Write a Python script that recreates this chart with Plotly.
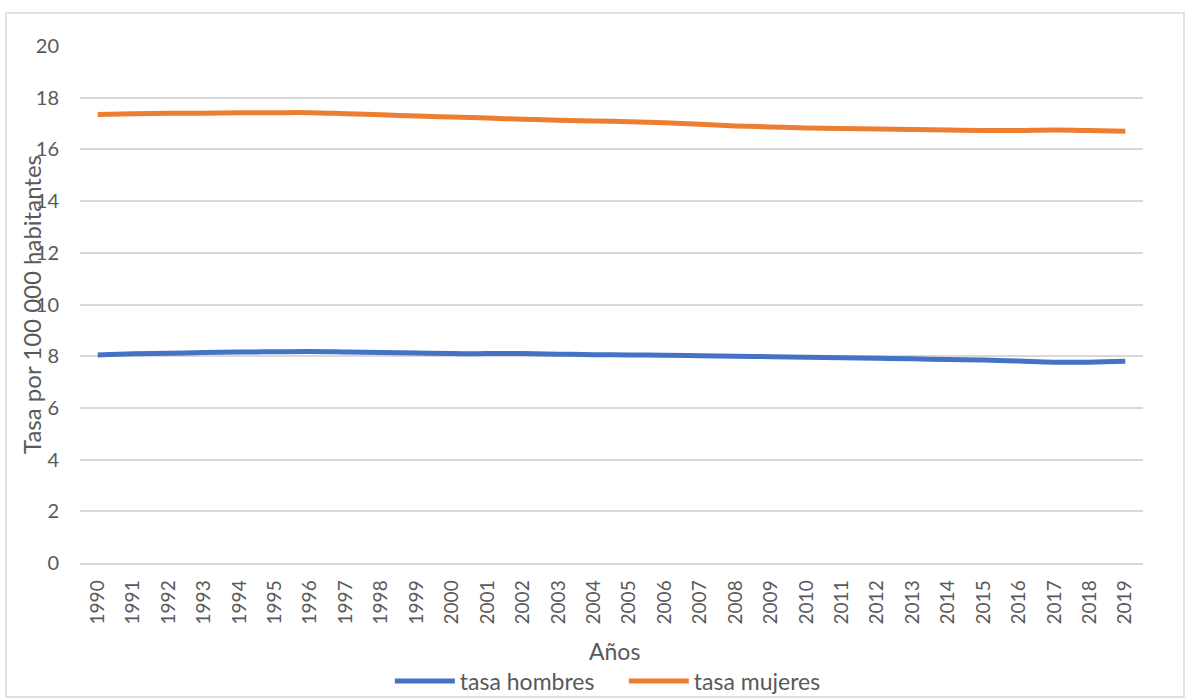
import plotly.graph_objects as go

years = [str(y) for y in range(1990, 2020)]
hombres = [8.05, 8.09, 8.11, 8.14, 8.16, 8.17, 8.18, 8.16, 8.14, 8.12,
           8.10, 8.10, 8.10, 8.08, 8.06, 8.05, 8.04, 8.02, 8.00, 7.98,
           7.96, 7.94, 7.92, 7.90, 7.87, 7.85, 7.81, 7.77, 7.77, 7.80]
mujeres = [17.35, 17.38, 17.40, 17.40, 17.42, 17.42, 17.42, 17.38, 17.34, 17.29,
           17.25, 17.21, 17.17, 17.13, 17.10, 17.07, 17.03, 16.97, 16.91, 16.87,
           16.83, 16.81, 16.79, 16.77, 16.75, 16.73, 16.73, 16.75, 16.73, 16.70]
y_ticks = [0, 2, 4, 6, 8, 10, 12, 14, 16, 18, 20]

FONT = "Lato"
GREY = "#595959"

fig = go.Figure()
fig.add_trace(go.Scatter(x=years, y=hombres, name="tasa hombres", mode="lines",
                         line=dict(color="#4472C4", width=5, shape="spline")))
fig.add_trace(go.Scatter(x=years, y=mujeres, name="tasa mujeres", mode="lines",
                         line=dict(color="#ED7D31", width=5, shape="spline")))

W, H = 1186, 698
L, R, T, B = 80, 43, 46, 135
pw, ph = W - L - R, H - T - B

def px(xp):
    return (xp - L) / pw

def py(yp):
    return (H - B - yp) / ph

fig.update_layout(
    width=W, height=H,
    margin=dict(l=L, r=R, t=T, b=B, autoexpand=False),
    paper_bgcolor="white", plot_bgcolor="white",
    font=dict(family=FONT, color=GREY, size=18),
    showlegend=True,
    legend=dict(orientation="h", x=0.526, xanchor="center", xref="container",
                y=1 - 681 / H, yanchor="middle", yref="container",
                font=dict(size=23, color=GREY), tracegroupgap=0,
                bgcolor="rgba(0,0,0,0)",
                entrywidth=159, entrywidthmode="pixels", itemwidth=60),
    xaxis=dict(type="category", tickangle=-90, tickfont=dict(size=19, color=GREY),
               showgrid=False, showline=True, linecolor="#D9D9D9", linewidth=1.5,
               ticks="", range=[-0.5, 29.5], automargin=False, ticklabelstandoff=8),
    yaxis=dict(range=[0, 20], tickvals=y_ticks, tickfont=dict(size=20, color=GREY),
               showgrid=True, gridcolor="#D9D9D9", gridwidth=1.5, zeroline=False,
               showline=False, ticks="", ticklabelstandoff=20, automargin=False),
    annotations=[
        dict(text="Tasa por 100 000 habitantes", textangle=-90, xref="paper", yref="paper",
             x=px(31), y=py(305), xanchor="center", yanchor="middle", showarrow=False,
             font=dict(size=24, color=GREY)),
        dict(text="Años", xref="paper", yref="paper", x=px(614), y=py(651),
             xanchor="center", yanchor="middle", showarrow=False,
             font=dict(size=23, color=GREY)),
    ],
    shapes=[
        dict(type="rect", xref="paper", yref="paper", x0=px(6), x1=px(1184), y0=py(697), y1=py(13),
             line=dict(color="#D9D9D9", width=1.5), fillcolor="rgba(0,0,0,0)", layer="below"),
    ],
)

fig.write_html("out.html", config={"displayModeBar": False},
               post_script="document.body.style.margin='0';document.body.style.overflow='hidden';")
